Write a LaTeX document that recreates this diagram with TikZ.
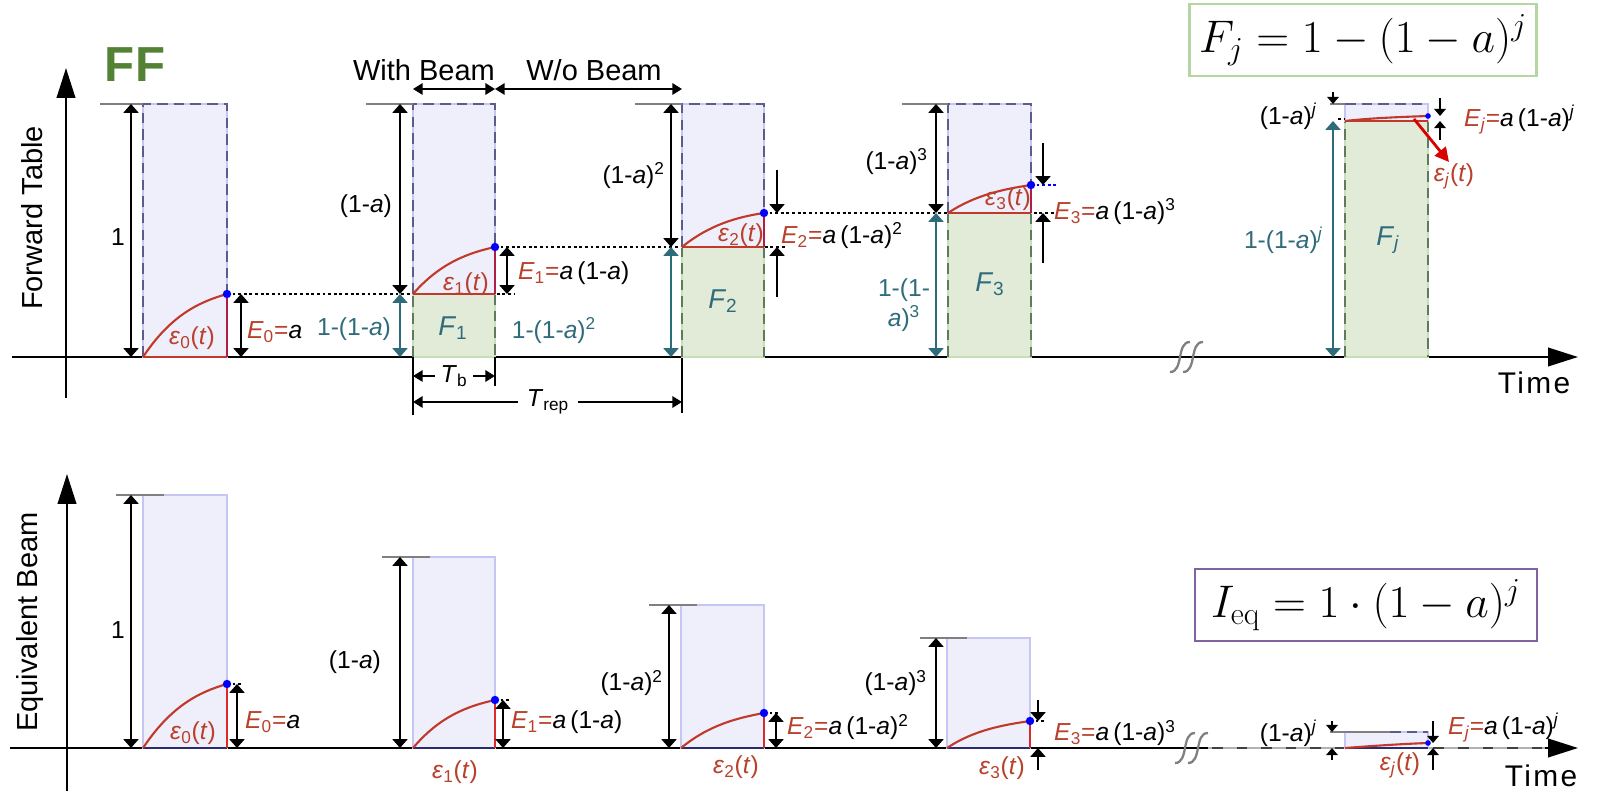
\documentclass[tikz,border=0pt]{standalone}
\usepackage{fix-cm}
\usepackage[no-math]{fontspec}
\setmainfont{Liberation Sans}
\usetikzlibrary{arrows.meta}

\definecolor{pulseblue}{HTML}{EFEFFC}
\definecolor{pulseedge}{HTML}{C6C6F5}
\definecolor{dashblue}{HTML}{5C5C8C}
\definecolor{fillgreen}{HTML}{E2EAD8}
\definecolor{edgegreen}{HTML}{C5E0B4}
\definecolor{dashgreen}{HTML}{5F7B5F}
\definecolor{tealc}{HTML}{2E6C7B}
\definecolor{curvered}{HTML}{C0392B}
\definecolor{labred}{HTML}{B9402B}
\definecolor{edgered}{HTML}{B01E45}
\definecolor{brightred}{HTML}{D92B2B}
\definecolor{navyline}{HTML}{2C2C6C}
\definecolor{ffgreen}{HTML}{548235}
\definecolor{boxgreen}{HTML}{B4D6A0}
\definecolor{boxpurple}{HTML}{8064A2}

\begin{document}
\begin{tikzpicture}[x=0.02cm,y=-0.02cm,font=\fontsize{14}{17}\selectfont,inner sep=1pt,
    bluebox/.style={fill=pulseblue,draw=pulseedge,line width=1.1pt},
    greenbox/.style={fill=fillgreen,draw=edgegreen,line width=1.1pt},
    bluedash/.style={draw=dashblue,line width=1.3pt,dash pattern=on 6pt off 3.5pt},
    greendash/.style={draw=dashgreen,line width=1.3pt,dash pattern=on 6pt off 3.5pt},
    topline/.style={draw=gray,line width=1.2pt},
    epsline/.style={draw=curvered,line width=1.2pt},
    dotline/.style={line width=1pt,dash pattern=on 1.6pt off 1.6pt},
    dimarrow/.style={line width=1.1pt,{Triangle[width=8.5pt,length=5pt]}-{Triangle[width=8.5pt,length=5pt]}},
    tealdim/.style={dimarrow,draw=tealc},
    inarrow/.style={line width=1.1pt,-{Triangle[width=8.5pt,length=5pt]}},
    smallin/.style={line width=1pt,-{Triangle[width=6.5pt,length=4pt]}},
    spanarrow/.style={line width=1.1pt,{Triangle[width=6.5pt,length=5.5pt]}-{Triangle[width=6.5pt,length=5.5pt]}},
    halfspan/.style={line width=1.1pt,-{Triangle[width=6.5pt,length=5.5pt]}},
    axisline/.style={line width=1.3pt,-{Triangle[width=10.5pt,length=17pt]}},
    breakline/.style={draw=gray,line width=1.3pt},
    redlab/.style={text=labred},
    teallab/.style={text=tealc},
    biglab/.style={font=\fontsize{16.5}{19}\selectfont}]

  \useasboundingbox (0,0) rectangle (1600,793);

  \draw[axisline] (12,357) -- (1578,357);
  \draw[axisline] (66,398) -- (66,68);
  \draw[breakline] (1170,372) .. controls (1184,372) and (1176,342) .. (1190,342);
  \draw[breakline] (1183,372) .. controls (1197,372) and (1189,342) .. (1203,342);
  \node[rotate=90,biglab] (ylabtop) at (32,218) {Forward Table};
  \node[font=\fontsize{17}{20}\selectfont\addfontfeature{LetterSpace=8}] (timetop) at (1534,383) {Time};
  \node[text=ffgreen,font=\fontsize{28}{32}\selectfont\bfseries] (ff) at (135,65) {FF};
  \node[draw=boxgreen,line width=1.3pt,minimum width=6.94cm,minimum height=1.44cm,inner sep=0pt] (fjbox) at (1363,40) {\fontsize{26}{30}\selectfont $F_j = 1-(1-a)^j$};

  \draw[dotline] (227,294) -- (515,294);
  \draw[dotline] (495,247) -- (785,247);
  \draw[dotline] (764,213) -- (1058,213);
  \draw[dotline,draw=blue] (1031,185) -- (1058,185);

  \draw[bluebox] (143,104) rectangle (227,357);
  \draw[bluedash] (143,357) -- (143,104) -- (227,104) -- (227,357);
  \draw[topline] (100,104) -- (143,104);
  \draw[epsline] (143,357) .. controls (171,315) and (199,302) .. (227,294);
  \draw[epsline] (143,357) -- (227,357);
  \draw[draw=edgered,line width=1.2pt] (227,294) -- (227,357);
  \fill[blue] (227,294) circle (2.4pt);
  \draw[dimarrow] (131,104) -- (131,357);
  \draw[dimarrow] (241,294) -- (241,357);
  \node[anchor=east] (topone) at (127,237) {1};
  \node[redlab] (topeps0) at (192,338) {\textit{ε}\textsubscript{0}(\textit{t})};
  \node[anchor=west] (topE0) at (245,332) {\textcolor{labred}{\textit{E}\textsubscript{0}=}\textit{a}};

  \draw[greenbox] (413,294) rectangle (495,357);
  \draw[greendash] (413,357) -- (413,294) (495,294) -- (495,357);
  \draw[bluebox] (413,104) rectangle (495,294);
  \draw[bluedash] (413,294) -- (413,104) -- (495,104) -- (495,294);
  \draw[topline] (366,104) -- (413,104);
  \draw[epsline] (413,294) .. controls (440,263) and (468,253) .. (495,247);
  \draw[epsline] (413,294) -- (495,294);
  \draw[draw=edgered,line width=1.2pt] (495,247) -- (495,294);
  \fill[blue] (495,247) circle (2.4pt);
  \draw[dimarrow] (400,104) -- (400,294);
  \draw[tealdim] (400,294) -- (400,357);
  \draw[dimarrow] (507,247) -- (507,294);
  \node[anchor=east] (topa1) at (394,206) {(1-\textit{a})};
  \node[teallab,anchor=east] (topF1v) at (393,329) {1-(1-\textit{a})};
  \node[teallab,font=\fontsize{15.5}{18}\selectfont] (topF1) at (453,328) {\textit{F}\textsubscript{1}};
  \node[redlab] (topeps1) at (466,284) {\textit{ε}\textsubscript{1}(\textit{t})};
  \node[anchor=west] (topE1) at (516,273) {\textcolor{labred}{\textit{E}\textsubscript{1}=}\textit{a}\,(1-\textit{a})};
  \node[teallab] (topF2v) at (554,331) {1-(1-\textit{a})\textsuperscript{2}};

  \node[biglab] (withb) at (424,70) {With Beam};
  \node[biglab] (wob) at (594,70) {W/o Beam};
  \draw[spanarrow] (413,89) -- (495,89);
  \draw[spanarrow] (495,89) -- (682,89);
  \draw[line width=1.1pt] (413,357) -- (413,415);
  \draw[line width=1.1pt] (495,357) -- (495,386);
  \draw[line width=1.1pt] (682,357) -- (682,413);
  \node[inner sep=3pt] (tb) at (454,376) {\textit{T}\textsubscript{b}};
  \draw[halfspan] (tb.west) -- (413,376);
  \draw[halfspan] (tb.east) -- (495,376);
  \node[inner sep=5pt] (trep) at (548,402) {\textit{T}\textsubscript{rep}};
  \draw[halfspan] (trep.west) -- (413,402);
  \draw[halfspan] (trep.east) -- (682,402);

  \draw[greenbox] (682,247) rectangle (764,357);
  \draw[greendash] (682,357) -- (682,247) (764,247) -- (764,357);
  \draw[bluebox] (682,104) rectangle (764,247);
  \draw[bluedash] (682,247) -- (682,104) -- (764,104) -- (764,247);
  \draw[topline] (635,104) -- (682,104);
  \draw[epsline] (682,247) .. controls (709,225) and (737,217) .. (764,213);
  \draw[epsline] (682,247) -- (764,247);
  \draw[draw=edgered,line width=1.2pt] (764,213) -- (764,247);
  \fill[blue] (764,213) circle (2.4pt);
  \draw[dimarrow] (671,104) -- (671,247);
  \draw[tealdim] (671,247) -- (671,357);
  \draw[inarrow] (777,170) -- (777,213);
  \draw[inarrow] (777,297) -- (777,247);
  \node[anchor=east] (topa2) at (667,176) {(1-\textit{a})\textsuperscript{2}};
  \node[teallab,font=\fontsize{15.5}{18}\selectfont] (topF2) at (723,301) {\textit{F}\textsubscript{2}};
  \node[redlab] (topeps2) at (741,235) {\textit{ε}\textsubscript{2}(\textit{t})};
  \node[anchor=west] (topE2) at (779,236) {\textcolor{labred}{\textit{E}\textsubscript{2}=}\textit{a}\,(1-\textit{a})\textsuperscript{2}};

  \draw[greenbox] (948,213) rectangle (1031,357);
  \draw[greendash] (948,357) -- (948,213) (1031,213) -- (1031,357);
  \draw[bluebox] (948,104) rectangle (1031,213);
  \draw[bluedash] (948,213) -- (948,104) -- (1031,104) -- (1031,213);
  \draw[topline] (902,104) -- (948,104);
  \draw[epsline] (948,213) .. controls (975,195) and (1004,189) .. (1031,185);
  \draw[epsline] (948,213) -- (1031,213);
  \draw[draw=edgered,line width=1.2pt] (1031,185) -- (1031,213);
  \fill[blue] (1031,185) circle (2.4pt);
  \draw[dimarrow] (936,104) -- (936,213);
  \draw[tealdim] (936,213) -- (936,357);
  \draw[inarrow] (1043,143) -- (1043,185);
  \draw[inarrow] (1043,263) -- (1043,213);
  \node[anchor=east] (topa3) at (930,162) {(1-\textit{a})\textsuperscript{3}};
  \node[teallab,align=center] (topF3v) at (904,305) {1-(1-\\\textit{a})\textsuperscript{3}};
  \node[teallab,font=\fontsize{15.5}{18}\selectfont] (topF3) at (990,284) {\textit{F}\textsubscript{3}};
  \node[redlab] (topeps3) at (1008,199) {\textit{ε}\textsubscript{3}(\textit{t})};
  \node[anchor=west] (topE3) at (1052,212) {\textcolor{labred}{\textit{E}\textsubscript{3}=}\textit{a}\,(1-\textit{a})\textsuperscript{3}};

  \draw[greenbox] (1345,121) rectangle (1428,357);
  \draw[greendash] (1345,357) -- (1345,121) (1428,121) -- (1428,357);
  \draw[bluebox] (1345,104) rectangle (1428,121);
  \draw[bluedash] (1345,104) -- (1428,104);
  \draw[topline] (1330,104) -- (1345,104);
  \draw[epsline] (1345,121) .. controls (1372,118) and (1400,117) .. (1428,116);
  \draw[epsline] (1345,121) -- (1428,121);
  \draw[dotline] (1338,119) -- (1345,119);
  \fill[blue] (1428,116) circle (1.6pt);
  \draw[smallin] (1333,92) -- (1333,104);
  \draw[tealdim] (1333,121) -- (1333,357);
  \draw[smallin] (1440,98) -- (1440,116);
  \draw[smallin] (1440,140) -- (1440,121);
  \node[anchor=east] (topaj) at (1319,116) {(1-\textit{a})\textsuperscript{\textit{j}}};
  \node[teallab,anchor=east] (topFjv) at (1325,240) {1-(1-\textit{a})\textsuperscript{\textit{j}}};
  \node[teallab,font=\fontsize{15.5}{18}\selectfont] (topFj) at (1388,240) {\textit{F}\textsubscript{\textit{j}}};
  \node[anchor=west] (topEj) at (1462,120) {\textcolor{labred}{\textit{E}\textsubscript{\textit{j}}=}\textit{a}\,(1-\textit{a})\textsuperscript{\textit{j}}};
  \node[redlab] (topepsj) at (1454,176) {\textit{ε}\textsubscript{\textit{j}}(\textit{t})};
  \draw[draw=red!85!black,line width=1.6pt,-{Triangle[width=8pt,length=8pt]}] (1414,119) -- (1449,162);

  \draw[axisline] (10,748) -- (1578,748);
  \draw[draw=gray!60,line width=1.4pt] (1208,748) -- (1545,748);
  \draw[draw=black!75,line width=1.4pt,dash pattern=on 6pt off 8pt] (1212,748) -- (1545,748);
  \draw[axisline] (67,791) -- (67,474);
  \draw[breakline] (1175,763) .. controls (1189,763) and (1181,733) .. (1195,733);
  \draw[breakline] (1188,763) .. controls (1202,763) and (1194,733) .. (1208,733);
  \node[rotate=90,biglab] (ylabbot) at (30,622) {Equivalent Beam};
  \node[font=\fontsize{17}{20}\selectfont\addfontfeature{LetterSpace=8}] (timebot) at (1541,776) {Time};
  \node[draw=boxpurple,line width=1.3pt,minimum width=6.84cm,minimum height=1.44cm,inner sep=0pt] (ieqbox) at (1366,605) {\fontsize{26}{30}\selectfont $I_{\mathrm{eq}} = 1\cdot(1-a)^j$};

  \draw[bluebox] (143,495) rectangle (227,748);
  \draw[draw=navyline,line width=1.2pt] (143,748) -- (227,748);
  \draw[topline] (116,495) -- (164,495);
  \draw[epsline] (143,748) .. controls (171,706) and (199,692) .. (227,684);
  \draw[draw=brightred,line width=1.2pt] (227,684) -- (227,748);
  \draw[dotline] (227,684) -- (243,684);
  \fill[blue] (227,684) circle (2.4pt);
  \draw[dimarrow] (131,495) -- (131,748);
  \draw[dimarrow] (237,684) -- (237,748);
  \node[anchor=east] (botone) at (127,630) {1};
  \node[redlab] (boteps0) at (193,733) {\textit{ε}\textsubscript{0}(\textit{t})};
  \node[anchor=west] (botE0) at (243,722) {\textcolor{labred}{\textit{E}\textsubscript{0}=}\textit{a}};

  \draw[bluebox] (413,557) rectangle (495,748);
  \draw[draw=navyline,line width=1.2pt] (413,748) -- (495,748);
  \draw[topline] (382,557) -- (430,557);
  \draw[epsline] (413,748) .. controls (440,716) and (468,706) .. (495,700);
  \draw[draw=brightred,line width=1.2pt] (495,700) -- (495,748);
  \draw[dotline] (495,700) -- (511,700);
  \fill[blue] (495,700) circle (2.4pt);
  \draw[dimarrow] (400,557) -- (400,748);
  \draw[dimarrow] (503,700) -- (503,748);
  \node[anchor=east] (bota1) at (383,662) {(1-\textit{a})};
  \node[redlab] (boteps1) at (455,772) {\textit{ε}\textsubscript{1}(\textit{t})};
  \node[anchor=west] (botE1) at (509,722) {\textcolor{labred}{\textit{E}\textsubscript{1}=}\textit{a}\,(1-\textit{a})};

  \draw[bluebox] (681,605) rectangle (764,748);
  \draw[draw=navyline,line width=1.2pt] (681,748) -- (764,748);
  \draw[topline] (649,605) -- (697,605);
  \draw[epsline] (681,748) .. controls (709,725) and (737,718) .. (764,713);
  \draw[draw=brightred,line width=1.2pt] (764,713) -- (764,748);
  \draw[dotline] (764,713) -- (780,713);
  \fill[blue] (764,713) circle (2.4pt);
  \draw[dimarrow] (669,605) -- (669,748);
  \draw[dimarrow] (776,713) -- (776,748);
  \node[anchor=east] (bota2) at (665,683) {(1-\textit{a})\textsuperscript{2}};
  \node[redlab] (boteps2) at (736,767) {\textit{ε}\textsubscript{2}(\textit{t})};
  \node[anchor=west] (botE2) at (785,727) {\textcolor{labred}{\textit{E}\textsubscript{2}=}\textit{a}\,(1-\textit{a})\textsuperscript{2}};

  \draw[bluebox] (947,638) rectangle (1030,748);
  \draw[draw=navyline,line width=1.2pt] (947,748) -- (1030,748);
  \draw[topline] (920,638) -- (967,638);
  \draw[epsline] (947,748) .. controls (974,730) and (1003,725) .. (1030,721);
  \draw[draw=brightred,line width=1.2pt] (1030,721) -- (1030,748);
  \draw[dotline] (1030,721) -- (1046,721);
  \fill[blue] (1030,721) circle (2.4pt);
  \draw[dimarrow] (936,638) -- (936,748);
  \draw[inarrow] (1038,700) -- (1038,721);
  \draw[inarrow] (1038,770) -- (1038,748);
  \node[anchor=east] (bota3) at (929,683) {(1-\textit{a})\textsuperscript{3}};
  \node[redlab] (boteps3) at (1002,768) {\textit{ε}\textsubscript{3}(\textit{t})};
  \node[anchor=west] (botE3) at (1052,733) {\textcolor{labred}{\textit{E}\textsubscript{3}=}\textit{a}\,(1-\textit{a})\textsuperscript{3}};

  \draw[bluebox] (1345,732) rectangle (1428,748);
  \draw[draw=navyline,line width=1.2pt] (1345,748) -- (1428,748);
  \draw[topline] (1330,732) -- (1390,732);
  \draw[bluedash] (1390,732) -- (1428,732);
  \draw[epsline] (1345,748) .. controls (1372,746) and (1400,744) .. (1428,743);
  \fill[blue] (1428,743) circle (1.6pt);
  \draw[smallin] (1332,721) -- (1332,732);
  \draw[smallin] (1332,760) -- (1332,748);
  \draw[smallin] (1433,721) -- (1433,743);
  \draw[smallin] (1433,770) -- (1433,748);
  \node[anchor=east] (botaj) at (1319,733) {(1-\textit{a})\textsuperscript{\textit{j}}};
  \node[redlab] (botepsj) at (1400,765) {\textit{ε}\textsubscript{\textit{j}}(\textit{t})};
  \node[anchor=west] (botEj) at (1446,728) {\textcolor{labred}{\textit{E}\textsubscript{\textit{j}}=}\textit{a}\,(1-\textit{a})\textsuperscript{\textit{j}}};

\end{tikzpicture}
\end{document}
